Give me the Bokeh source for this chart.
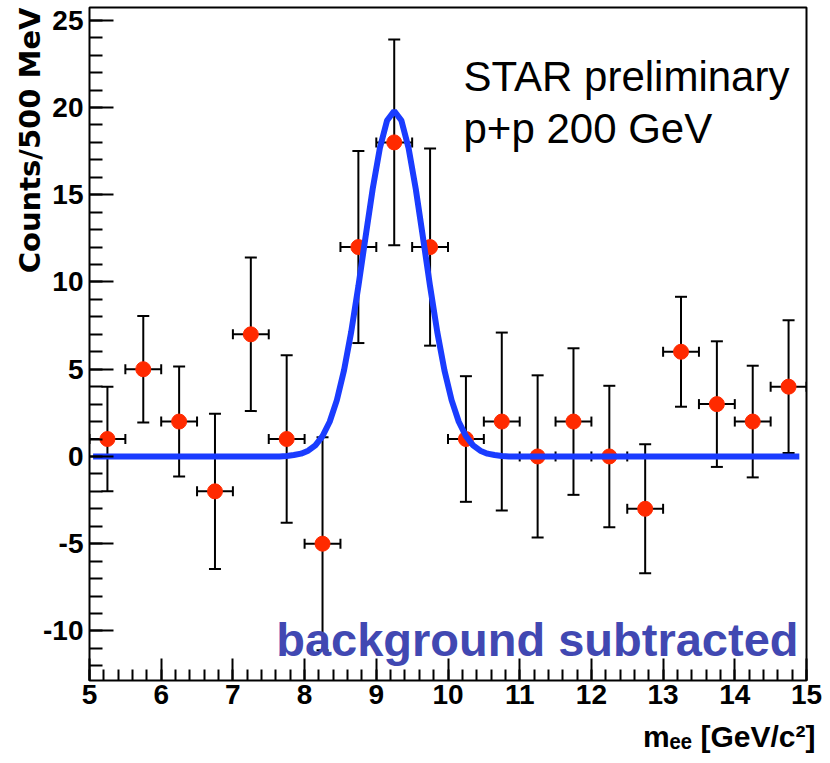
import math
from bokeh.plotting import figure
from bokeh.models import Range1d, FixedTicker, Label, Title
from bokeh.embed import file_html
from bokeh.resources import INLINE

# ---------------- data ----------------
mass = [5.25, 5.75, 6.25, 6.75, 7.25, 7.75, 8.25, 8.75, 9.25, 9.75,
        10.25, 10.75, 11.25, 11.75, 12.25, 12.75, 13.25, 13.75, 14.25, 14.75]
counts = [1, 5, 2, -2, 7, 1, -5, 12, 18, 12,
          1, 2, 0, 2, 0, -3, 6, 3, 2, 4]
errors = [3.0, 3.05, 3.15, 4.45, 4.4, 4.8, 6.1, 5.5, 5.9, 5.65,
          3.6, 5.1, 4.65, 4.2, 4.05, 3.7, 3.15, 3.6, 3.2, 3.8]
bin_half = [0.25] * 20

fit_x = [5.05, 7.65, 7.75, 7.85, 7.95, 8.05, 8.15, 8.25, 8.35, 8.45, 8.55,
         8.65, 8.75, 8.85, 8.95, 9.05, 9.15, 9.25, 9.35, 9.45, 9.55, 9.65,
         9.75, 9.85, 9.95, 10.05, 10.15, 10.25, 10.35, 10.45, 10.55, 10.65,
         10.75, 10.85, 14.9]
fit_y = [0.0, 0.0, 0.03, 0.08, 0.16, 0.33, 0.64, 1.17, 1.99, 3.23, 4.94,
         7.14, 9.75, 12.58, 15.34, 17.68, 19.25, 19.8, 19.25, 17.68, 15.34, 12.58,
         9.75, 7.14, 4.94, 3.23, 1.99, 1.17, 0.64, 0.33, 0.16, 0.08,
         0.03, 0.0, 0.0]

x_major = [5, 6, 7, 8, 9, 10, 11, 12, 13, 14, 15]
x_minor = [round(5 + 0.2 * i, 1) for i in range(51)]
y_major = [-10, -5, 0, 5, 10, 15, 20, 25]
y_minor = list(range(-12, 26))

# ---------------- layout ----------------
W, H = 830, 763
BL, BR, BT, BB = 89, 24, 7, 83
X0, X1 = 5.0, 15.0
Y0, Y1 = -12.84, 25.73


def px_x(xpx):
    return X0 + (xpx - BL) / (W - BL - BR) * (X1 - X0)


def px_y(ypx):
    return Y1 - (ypx - BT) / (H - BT - BB) * (Y1 - Y0)


p = figure(width=W, height=H, x_range=Range1d(X0, X1), y_range=Range1d(Y0, Y1),
           output_backend="svg", toolbar_location=None,
           min_border_left=BL, min_border_right=BR,
           min_border_top=BT, min_border_bottom=BB)
p.grid.visible = False
p.outline_line_color = "black"
p.outline_line_width = 2
p.background_fill_color = "white"
p.border_fill_color = "white"

for ax, major, minor, tin, mtin in ((p.xaxis[0], x_major, x_minor, 22, 11),
                                    (p.yaxis[0], y_major, y_minor, 24, 13)):
    ax.ticker = FixedTicker(ticks=major, minor_ticks=minor)
    ax.major_label_overrides = {v: str(v) for v in major}
    ax.axis_line_color = None
    ax.major_tick_in = tin
    ax.major_tick_out = 0
    ax.minor_tick_in = mtin
    ax.minor_tick_out = 0
    ax.major_tick_line_width = 2
    ax.minor_tick_line_width = 2
    ax.major_tick_line_color = "black"
    ax.minor_tick_line_color = "black"
    ax.major_label_text_font = "Liberation Sans"
    ax.major_label_text_font_style = "bold"
    ax.major_label_text_font_size = "28px"
    ax.major_label_text_color = "black"
p.xaxis.major_label_standoff = 4
p.yaxis.major_label_standoff = 6

# axis titles
p.add_layout(Title(text="Counts/500 MeV", align="right",
                   text_font="DejaVu Sans", text_font_size="29px",
                   text_font_style="bold", text_color="black",
                   standoff=-12, offset=0), "left")
p.add_layout(Title(text="m\u2091\u2091 [GeV/c\u00b2]", align="right",
                   text_font="Liberation Sans", text_font_size="30px",
                   text_font_style="bold", text_color="black",
                   standoff=22, offset=-9), "below")

# ---------------- error bars ----------------
lo = [c - e for c, e in zip(counts, errors)]
hi = [c + e for c, e in zip(counts, errors)]
xl = [m - h for m, h in zip(mass, bin_half)]
xr = [m + h for m, h in zip(mass, bin_half)]

p.segment(x0=mass, y0=lo, x1=mass, y1=hi, line_color="black", line_width=2)
p.segment(x0=xl, y0=counts, x1=xr, y1=counts, line_color="black", line_width=2)
p.scatter(x=mass + mass, y=lo + hi, marker="dash", size=12,
          line_color="black", line_width=2)
p.scatter(x=xl + xr, y=counts + counts, marker="dash", size=10, angle=math.pi / 2,
          line_color="black", line_width=2)

# markers
p.scatter(x=mass, y=counts, marker="circle", size=15,
          fill_color="#ff2a00", line_color="#ff2a00")

# fit curve
p.line(x=fit_x, y=fit_y, line_color="#1a3cff", line_width=6)

# ---------------- texts ----------------
p.add_layout(Label(x=px_x(463), y=px_y(76), text="STAR preliminary",
                   text_font="Liberation Sans", text_font_size="42px",
                   text_color="black", text_baseline="alphabetic"))
p.add_layout(Label(x=px_x(463), y=px_y(128), text="p+p 200 GeV",
                   text_font="Liberation Sans", text_font_size="42px",
                   text_color="black", text_baseline="alphabetic"))
p.add_layout(Label(x=px_x(798), y=px_y(639), text="background subtracted",
                   text_font="Liberation Sans", text_font_size="47px",
                   text_font_style="bold", text_color="#4148b2",
                   text_align="right", text_baseline="alphabetic"))

open("out.html", "w").write(file_html(p, INLINE))
